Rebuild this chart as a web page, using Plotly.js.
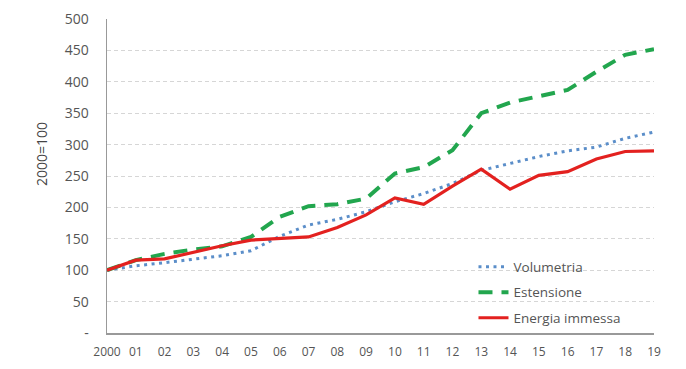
<!DOCTYPE html>
<html>
<head>
<meta charset="utf-8">
<script src="https://cdn.plot.ly/plotly-3.0.1.min.js"></script>
<style>html,body{margin:0;padding:0;background:#fff;}#chart{width:686px;height:369px;}</style>
</head>
<body>
<div id="chart"></div>
<script>
const years = ["2000","01","02","03","04","05","06","07","08","09","10","11","12","13","14","15","16","17","18","19"];
const volumetria = [100,107,112,118,123,131,154,172,181,193,209,222,238,259,270,281,290,296,310,320];
const estensione = [100,116,126,133,138,153,185,202,205,214,254,264,291,350,367,377,387,416,443,452];
const energia = [100,116,118,129,139,148,151,153,168,188,215,205,234,261,229,251,257,277,289,290];
const yTickVals = [0,50,100,150,200,250,300,350,400,450,500];
const yTickText = ["-","50","100","150","200","250","300","350","400","450","500"];

const xs = years.map((_, i) => i);

const traces = [
  {x: xs, y: volumetria, name: "Volumetria", type: "scatter", mode: "lines",
   line: {color: "#5b8ec9", width: 3, dash: "3px,4.5px"}, legendgroup: "a"},
  {x: xs, y: estensione, name: "Estensione", type: "scatter", mode: "lines",
   line: {color: "#22a64e", width: 4, dash: "14px,9px"}, legendgroup: "b"},
  {x: xs, y: energia, name: "Energia immessa", type: "scatter", mode: "lines",
   line: {color: "#e3211f", width: 3.2}, legendgroup: "c"}
];

const layout = {
  width: 686, height: 369,
  margin: {l: 107, r: 32, t: 19, b: 36},
  paper_bgcolor: "#fff", plot_bgcolor: "#fff",
  font: {family: "Open Sans, sans-serif", color: "#555"},
  showlegend: true,
  legend: {x: 0.67, y: 0.26, xanchor: "left", yanchor: "top",
           bgcolor: "rgba(0,0,0,0)", font: {size: 13.5, color: "#555"},
           tracegroupgap: 5, traceorder: "grouped"},
  xaxis: {range: [0, 19], tickvals: xs, ticktext: years, showgrid: false,
          zeroline: false, showline: true, linecolor: "#999", linewidth: 1.5,
          ticks: "outside", ticklen: 7, tickcolor: "rgba(0,0,0,0)",
          tickfont: {size: 12, color: "#555"}, fixedrange: true},
  yaxis: {range: [0, 500], tickvals: yTickVals, ticktext: yTickText,
          showgrid: true, gridcolor: "#d6d6d6", gridwidth: 1, griddash: "4px,3px",
          zeroline: false, showline: true, linecolor: "#999", linewidth: 1.5,
          ticks: "outside", ticklen: 14, tickcolor: "rgba(0,0,0,0)",
          tickfont: {size: 14, color: "#555"}, fixedrange: true},
  annotations: [{text: "2000=100", xref: "paper", yref: "paper",
                 x: (41 - 107) / 547, y: (333 - 154) / 314, showarrow: false,
                 textangle: -90, font: {size: 14, color: "#444"},
                 xanchor: "center", yanchor: "middle"}]
};

Plotly.newPlot("chart", traces, layout, {displayModeBar: false, staticPlot: true});
</script>
</body>
</html>
